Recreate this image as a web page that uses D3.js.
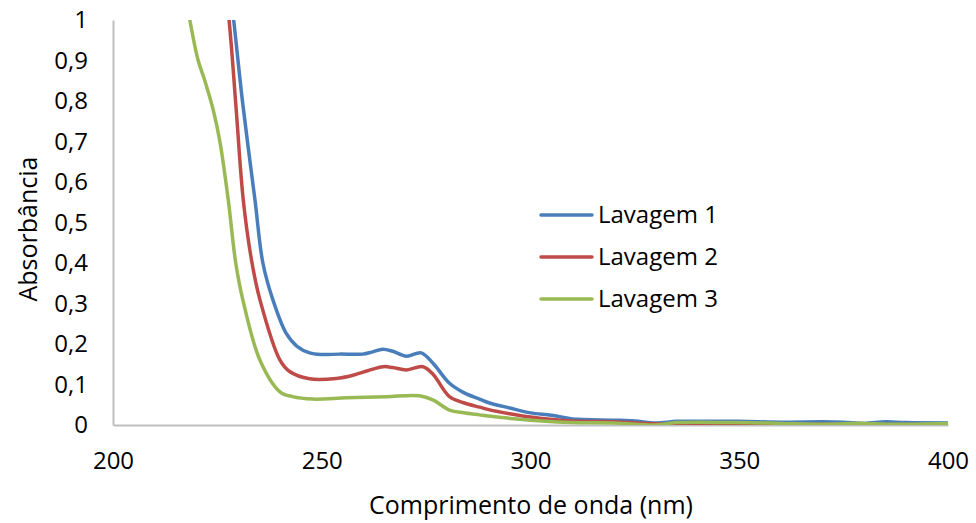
<!DOCTYPE html>
<html><head><meta charset="utf-8">
<script src="https://cdn.jsdelivr.net/npm/d3@7"></script>
<style>body{margin:0;background:#fff}svg{display:block}text{font-family:"Open Sans",sans-serif;fill:#000}</style>
</head><body><svg id="c" width="976" height="523"></svg>
<script>
const seriesNames = ["Lavagem 1","Lavagem 2","Lavagem 3"];
const colors = ["#4A7EBB","#BE4B48","#98B954"];
const xTicks = [200,250,300,350,400];
const yTicks = [0,0.1,0.2,0.3,0.4,0.5,0.6,0.7,0.8,0.9,1];
const wl1 = [226,228.9,231,234,235.9,238.3,241.5,244,247.1,250,254.3,259.8,262,264.6,267,270.3,273.8,276.6,280.6,284,287.8,290,295,300,305,310,320,325,330,335,340,350,360,370,375,380,385,390,400];
const abs1 = [1.25,1.0,0.8,0.556,0.4,0.309,0.226,0.195,0.178,0.174,0.175,0.175,0.18,0.187,0.182,0.170,0.178,0.153,0.103,0.08,0.064,0.055,0.042,0.03,0.024,0.015,0.012,0.01,0.005,0.009,0.009,0.009,0.007,0.008,0.007,0.004,0.008,0.006,0.005];
const wl2 = [225,227.8,229.5,231.2,233.3,235.2,240,242.3,247.1,253.5,257.5,261,264.7,267,270.3,274.2,276.6,280.6,284,287.8,290,295,300,310,320,330,340,350,360,370,380,390,400];
const abs2 = [1.25,1.0,0.78,0.556,0.4,0.309,0.16,0.132,0.114,0.115,0.123,0.134,0.144,0.142,0.136,0.144,0.126,0.07,0.055,0.044,0.038,0.028,0.02,0.01,0.008,0.003,0.002,0.002,0.0,0.002,0.001,0.001,0.0];
const wl3 = [216,218.4,220.4,222,224,225.6,227.6,229.4,231.1,235.2,240,243,247.8,255.9,265.5,273.4,276.6,280.6,284,287.8,290,300,310,320,330,335,350,360,370,380,385,400];
const abs3 = [1.15,1.0,0.9,0.85,0.778,0.70,0.556,0.4,0.309,0.16,0.082,0.07,0.064,0.067,0.07,0.072,0.062,0.037,0.03,0.025,0.022,0.012,0.006,0.005,0.0,0.006,0.006,0.004,0.002,0.004,0.002,0.004];
const allData = [[wl1,abs1],[wl2,abs2],[wl3,abs3]];

const svg = d3.select("#c");
const m = {l:113,r:28,t:20,b:98};
const W = 976, H = 523;
const x = d3.scaleLinear().domain([200,400]).range([m.l, W-m.r]);
const y = d3.scaleLinear().domain([0,1]).range([H-m.b, m.t]);

svg.append("defs").append("clipPath").attr("id","clip").append("rect")
  .attr("x",m.l).attr("y",m.t).attr("width",W-m.r-m.l).attr("height",H-m.b-m.t);

const xa = svg.append("g").attr("transform",`translate(0,${y(0)})`)
  .call(d3.axisBottom(x).tickValues(xTicks).tickSize(0).tickPadding(27).tickFormat(d3.format("d")));
xa.select(".domain").attr("stroke","#BFBFBF").attr("stroke-width",2);
xa.selectAll("text").style("font-size","24px");

const ya = svg.append("g").attr("transform",`translate(${x(200)},0)`)
  .call(d3.axisLeft(y).tickValues(yTicks).tickSize(0).tickPadding(25).tickFormat(d=>d===0?"0":d===1?"1":d.toFixed(1).replace(".",",")));
ya.select(".domain").attr("stroke","#BFBFBF").attr("stroke-width",2);
ya.selectAll("text").style("font-size","24px");

const line = d3.line().x(d=>x(d[0])).y(d=>y(d[1])).curve(d3.curveCatmullRom.alpha(0.5));
const g = svg.append("g").attr("clip-path","url(#clip)");
allData.forEach((s,i)=>{
  const pts = s[0].map((w,j)=>[w,s[1][j]]);
  g.append("path").datum(pts).attr("d",line).attr("fill","none")
    .attr("stroke",colors[i]).attr("stroke-width",3.5).attr("stroke-linejoin","round");
});

svg.append("text").attr("x",531).attr("y",505).attr("dy","0.35em").attr("text-anchor","middle")
  .style("font-size","25px").text("Comprimento de onda (nm)");
svg.append("text").attr("transform","translate(28,229) rotate(-90)").attr("dy","0.35em").attr("text-anchor","middle")
  .style("font-size","25px").text("Absorbância");

const lg = svg.append("g");
seriesNames.forEach((n,i)=>{
  const yy = 215 + i*42;
  lg.append("line").attr("x1",541).attr("x2",592).attr("y1",yy).attr("y2",yy)
    .attr("stroke",colors[i]).attr("stroke-width",3.5).attr("stroke-linecap","round");
  lg.append("text").attr("x",598).attr("y",yy).attr("dy","0.35em").style("font-size","24px").text(n);
});
</script></body></html>
